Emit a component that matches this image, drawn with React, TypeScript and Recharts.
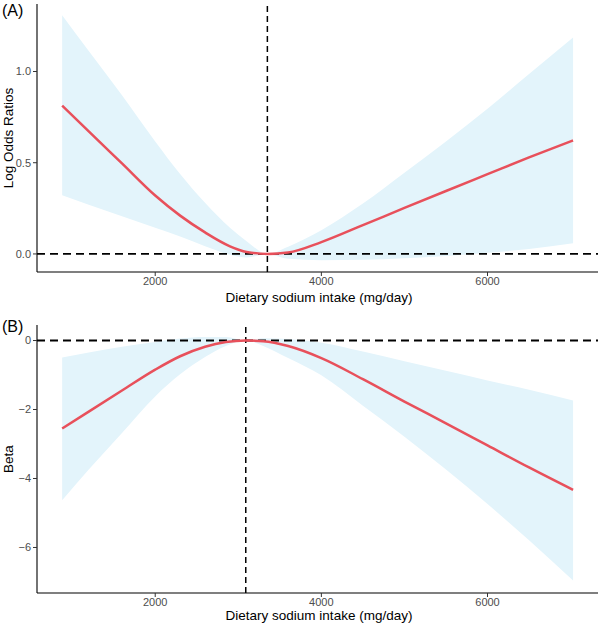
import {
  ComposedChart,
  Area,
  Line,
  XAxis,
  YAxis,
  ReferenceLine,
} from "recharts";

/* ── Panel A: log odds ratios ─────────────────────────────────── */
const sodiumA = [880, 1200, 1600, 2000, 2300, 2600, 2900, 3100, 3350, 3600, 4000, 4500, 5000, 5500, 6000, 6500, 7030];
const fitA = [0.813, 0.672, 0.496, 0.32, 0.21, 0.118, 0.042, 0.011, 0, 0.008, 0.065, 0.158, 0.252, 0.345, 0.437, 0.529, 0.622];
const upperA = [1.309, 1.113, 0.87, 0.617, 0.438, 0.28, 0.143, 0.07, 0, 0.04, 0.13, 0.276, 0.445, 0.617, 0.796, 0.986, 1.186];
const lowerA = [0.322, 0.27, 0.207, 0.143, 0.095, 0.042, -0.004, -0.019, 0, -0.027, -0.034, -0.032, -0.023, -0.011, 0.006, 0.027, 0.059];
const refA = 3350;

/* ── Panel B: beta ────────────────────────────────────────────── */
const sodiumB = [880, 1200, 1600, 2000, 2300, 2600, 2850, 3090, 3300, 3600, 4000, 4500, 5000, 5500, 6000, 6500, 7030];
const fitB = [-2.55, -2.06, -1.45, -0.845, -0.456, -0.18, -0.045, 0, -0.02, -0.16, -0.51, -1.12, -1.77, -2.4, -3.04, -3.68, -4.33];
const upperB = [-0.49, -0.345, -0.18, -0.045, 0.056, 0.1, 0.1, 0, 0.067, 0.045, -0.067, -0.32, -0.6, -0.88, -1.16, -1.43, -1.74];
const lowerB = [-4.63, -3.74, -2.68, -1.62, -0.98, -0.48, -0.156, 0, -0.156, -0.51, -1.01, -1.89, -2.79, -3.74, -4.74, -5.79, -6.96];
const refB = 3090;

const xTicks = [2000, 4000, 6000];
const yTicksA = [0, 0.5, 1.0];
const yTicksB = [-6, -4, -2, 0];

const FONT = "'Liberation Sans', Arial, Helvetica, sans-serif";
const LINE = "#E8505B";
const BAND = "#E3F4FB";

function buildRows(xs: number[], fit: number[], lo: number[], hi: number[]) {
  return xs.map((x, i) => ({ x, fit: fit[i], band: [lo[i], hi[i]] }));
}

const tickStyle = { fill: "#4d4d4d", fontSize: 11, fontFamily: FONT };

function Panel({
  rows,
  refX,
  yDomain,
  yTicks,
  fmt,
  height,
  top,
  axisH,
}: {
  rows: { x: number; fit: number; band: number[] }[];
  refX: number;
  yDomain: [number, number];
  yTicks: number[];
  fmt: (v: number) => string;
  height: number;
  top: number;
  axisH: number;
}) {
  return (
    <ComposedChart
      width={603}
      height={height}
      data={rows}
      margin={{ top, right: 5, left: 0, bottom: 0 }}
    >
      <XAxis
        dataKey="x"
        type="number"
        domain={[577, 7330]}
        allowDataOverflow
        ticks={xTicks}
        tick={tickStyle}
        tickSize={4}
        tickMargin={1}
        axisLine={{ stroke: "#000", strokeWidth: 1.1 }}
        tickLine={{ stroke: "#333" }}
        height={axisH}
      />
      <YAxis
        type="number"
        domain={yDomain}
        allowDataOverflow
        ticks={yTicks}
        tickFormatter={fmt}
        tick={tickStyle}
        tickSize={4}
        tickMargin={2}
        width={37}
        axisLine={{ stroke: "#000", strokeWidth: 1.1 }}
        tickLine={{ stroke: "#333" }}
      />
      <Area
        dataKey="band"
        type="monotone"
        fill={BAND}
        fillOpacity={1}
        stroke="none"
        isAnimationActive={false}
      />
      <ReferenceLine y={0} stroke="#000" strokeWidth={1.8} strokeDasharray="8 5" />
      <ReferenceLine x={refX} stroke="#000" strokeWidth={1.5} strokeDasharray="6 4" />
      <Line
        dataKey="fit"
        type="monotone"
        stroke={LINE}
        strokeWidth={2.5}
        dot={false}
        isAnimationActive={false}
      />
    </ComposedChart>
  );
}

const textBase: React.CSSProperties = {
  position: "absolute",
  fontFamily: FONT,
  color: "#000",
  whiteSpace: "nowrap",
  lineHeight: 1,
};

function XTitle({ y }: { y: number }) {
  return (
    <div style={{ ...textBase, left: 319, top: y, fontSize: 13.5, transform: "translate(-50%, -50%)" }}>
      Dietary sodium intake (mg/day)
    </div>
  );
}

function YTitle({ y, text }: { y: number; text: string }) {
  return (
    <div
      style={{
        ...textBase,
        left: 9,
        top: y,
        fontSize: 13.5,
        transform: "translate(-50%, -50%) rotate(-90deg)",
      }}
    >
      {text}
    </div>
  );
}

export default function App() {
  const rowsA = buildRows(sodiumA, fitA, lowerA, upperA);
  const rowsB = buildRows(sodiumB, fitB, lowerB, upperB);
  return (
    <div
      style={{
        position: "absolute",
        left: 0,
        top: 0,
        width: 603,
        height: 625,
        background: "#fff",
        overflow: "hidden",
      }}
    >
      <div style={{ position: "absolute", left: 0, top: 0 }}>
        <Panel
          rows={rowsA}
          refX={refA}
          yDomain={[-0.099, 1.37]}
          yTicks={yTicksA}
          fmt={(v) => v.toFixed(1)}
          height={310}
          top={4}
          axisH={38}
        />
      </div>
      <div style={{ position: "absolute", left: 0, top: 310 }}>
        <Panel
          rows={rowsB}
          refX={refB}
          yDomain={[-7.32, 0.45]}
          yTicks={yTicksB}
          fmt={(v) => (v < 0 ? "\u2212" + Math.abs(v) : String(v))}
          height={315}
          top={15}
          axisH={32}
        />
      </div>
      <XTitle y={298} />
      <XTitle y={616} />
      <YTitle y={138} text="Log Odds Ratios" />
      <YTitle y={459} text="Beta" />
      <div style={{ ...textBase, left: 2, top: 3, fontSize: 16 }}>(A)</div>
      <div style={{ ...textBase, left: 2, top: 319, fontSize: 16 }}>(B)</div>
    </div>
  );
}
